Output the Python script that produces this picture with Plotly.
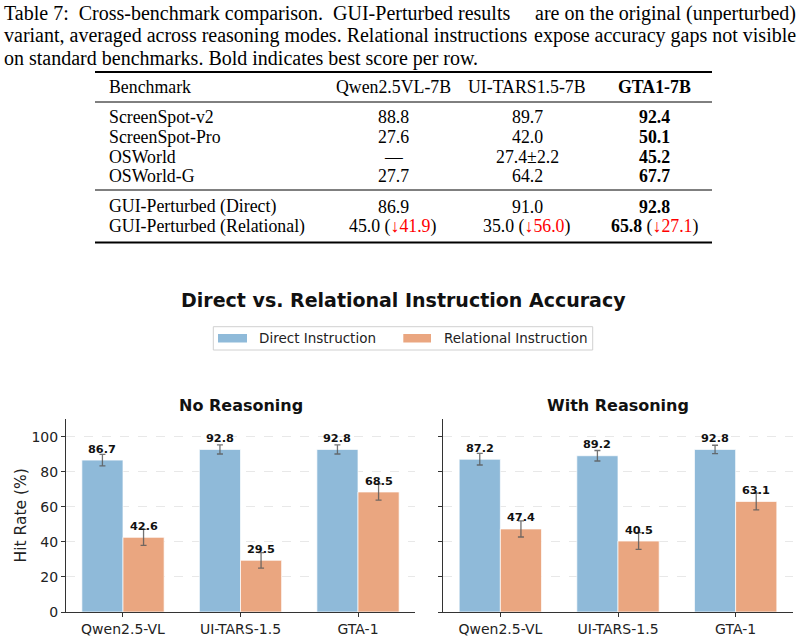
import plotly.graph_objects as go

# ---------------- data ----------------
models = ["Qwen2.5-VL", "UI-TARS-1.5", "GTA-1"]

no_reason_direct = [86.7, 92.8, 92.8]
no_reason_direct_err = [3.3, 2.6, 2.6]
no_reason_rel = [42.6, 29.5, 68.5]
no_reason_rel_err = [4.6, 4.4, 4.6]

reason_direct = [87.2, 89.2, 92.8]
reason_direct_err = [3.3, 3.0, 2.4]
reason_rel = [47.4, 40.5, 63.1]
reason_rel_err = [4.6, 4.8, 4.8]

panel_titles = ["No Reasoning", "With Reasoning"]
series_names = ["Direct Instruction", "Relational Instruction"]
y_ticks = [0, 20, 40, 60, 80, 100]

caption_lines = [
    ("Table 7:  Cross-benchmark comparison.  GUI-Perturbed results", "are on the original (unperturbed)"),
    ("variant, averaged across reasoning modes. Relational instructions", "expose accuracy gaps not visible"),
    ("on standard benchmarks. Bold indicates best score per row.", ""),
]
table_header = ["Benchmark", "Qwen2.5VL-7B", "UI-TARS1.5-7B", "GTA1-7B"]
benchmarks = ["ScreenSpot-v2", "ScreenSpot-Pro", "OSWorld", "OSWorld-G",
              "GUI-Perturbed (Direct)", "GUI-Perturbed (Relational)"]
qwen_scores = ["88.8", "27.6", "\u2014", "27.7", "86.9", "45.0"]
uitars_scores = ["89.7", "42.0", "27.4\u00b12.2", "64.2", "91.0", "35.0"]
gta_scores = ["92.4", "50.1", "45.2", "67.7", "92.8", "65.8"]
relational_drops = ["41.9", "56.0", "27.1"]

# ---------------- style ----------------
W, H = 806, 638
BLUE = "rgb(143,186,217)"
ORANGE = "rgb(234,166,128)"
SANS = "DejaVu Sans"
SERIF = "Liberation Serif"


def X(px):
    return px / W


def Y(py):
    return 1 - py / H


fig = go.Figure()

panels = [
    (no_reason_direct, no_reason_direct_err, no_reason_rel, no_reason_rel_err, "x", "y"),
    (reason_direct, reason_direct_err, reason_rel, reason_rel_err, "x2", "y2"),
]
err_style = dict(type="data", color="rgba(90,90,90,0.85)", thickness=1.3, width=3, visible=True)
for d, de, r, re_, xa, ya in panels:
    fig.add_trace(go.Bar(x=models, y=d, name=series_names[0], marker=dict(color=BLUE, line=dict(color="rgba(255,255,255,0.7)", width=1)),
                         error_y=dict(array=de, **err_style), xaxis=xa, yaxis=ya, showlegend=False))
    fig.add_trace(go.Bar(x=models, y=r, name=series_names[1], marker=dict(color=ORANGE, line=dict(color="rgba(255,255,255,0.7)", width=1)),
                         error_y=dict(array=re_, **err_style), xaxis=xa, yaxis=ya, showlegend=False))

annotations = []
# value labels
for d, de, r, re_, xa, ya in panels:
    for vals, off in ((d, -0.175), (r, 0.175)):
        for i, v in enumerate(vals):
            annotations.append(dict(x=i + off, y=v, xref=xa, yref=ya, text=f"<b>{v:.1f}</b>",
                                    showarrow=False, yanchor="middle", xanchor="center", yshift=11,
                                    font=dict(family=SANS, size=11.3, color="#111")))

ydom = [Y(612), Y(419.3)]
axis_common = dict(showline=True, linecolor="#333", linewidth=1, ticks="outside", ticklen=4,
                   tickcolor="#333", tickwidth=1, tickfont=dict(family=SANS, size=14, color="#222"),
                   automargin=False)
fig.update_layout(
    xaxis=dict(domain=[X(66), X(415)], range=[-0.485, 2.485], anchor="y", showgrid=False, **axis_common),
    xaxis2=dict(domain=[X(443.3), X(792.7)], range=[-0.485, 2.485], anchor="y2", showgrid=False, **axis_common),
    yaxis=dict(domain=ydom, range=[0, 110], tickvals=y_ticks, anchor="x", showgrid=True, gridcolor="#e8e8e8",
               griddash="dash", gridwidth=0.8, zeroline=False, **axis_common),
    yaxis2=dict(domain=ydom, range=[0, 110], tickvals=y_ticks, anchor="x2", showgrid=True, gridcolor="#e8e8e8",
                griddash="dash", gridwidth=0.8, zeroline=False, showticklabels=False, **axis_common),
    barmode="group", bargap=0.3, bargroupgap=0,
)

# panel titles
for t, cx in zip(panel_titles, [(66 + 415) / 2, (443.3 + 792.7) / 2]):
    annotations.append(dict(x=X(cx), y=Y(405), xref="paper", yref="paper", text=f"<b>{t}</b>", showarrow=False,
                            xanchor="center", yanchor="middle", font=dict(family=SANS, size=16, color="#111")))
# y title
annotations.append(dict(x=X(20), y=Y(515.5), xref="paper", yref="paper", text="Hit Rate (%)", textangle=-90,
                        showarrow=False, xanchor="center", yanchor="middle", font=dict(family=SANS, size=15.5, color="#222")))
# suptitle
annotations.append(dict(x=X(403), y=Y(300), xref="paper", yref="paper", text="<b>Direct vs. Relational Instruction Accuracy</b>",
                        showarrow=False, xanchor="center", yanchor="middle", font=dict(family=SANS, size=19, color="#111")))

shapes = []
# legend box
shapes.append(dict(type="rect", xref="paper", yref="paper", x0=X(213.3), x1=X(592.7), y0=Y(350), y1=Y(326.7),
                   line=dict(color="#d0d0d0", width=1), fillcolor="white"))
for (sx0, sx1, tx), col, name in zip([(218, 247, 257.3), (403.3, 431, 442.3)], [BLUE, ORANGE], series_names):
    shapes.append(dict(type="rect", xref="paper", yref="paper", x0=X(sx0), x1=X(sx1), y0=Y(342.5), y1=Y(334),
                       line=dict(width=0), fillcolor=col))
    annotations.append(dict(x=X(tx), y=Y(338), xref="paper", yref="paper", text=name, showarrow=False,
                            xanchor="left", yanchor="middle", font=dict(family=SANS, size=13.5, color="#222")))

# caption
cap_y = [13, 35.5, 58]
for (left, right), cy in zip(caption_lines, cap_y):
    annotations.append(dict(x=X(2), y=Y(cy), xref="paper", yref="paper", text=left, showarrow=False,
                            xanchor="left", yanchor="middle", font=dict(family=SERIF, size=20, color="#000")))
    if right:
        annotations.append(dict(x=X(798), y=Y(cy), xref="paper", yref="paper", text=right, showarrow=False,
                                xanchor="right", yanchor="middle", font=dict(family=SERIF, size=20, color="#000")))

# table
TF = dict(family=SERIF, size=17.8, color="#000")
col_x = [107, 393, 527, 654.5]
header_y = 87
row_y = [116.5, 136.5, 156.5, 176.5, 206.5, 226.5]
for j, (h, cx) in enumerate(zip(table_header, col_x)):
    annotations.append(dict(x=X(cx), y=Y(header_y), xref="paper", yref="paper",
                            text=f"<b>{h}</b>" if j == 3 else h, showarrow=False,
                            xanchor="left" if j == 0 else "center", yanchor="middle", font=TF))
for i, ry in enumerate(row_y):
    cells = [benchmarks[i], qwen_scores[i], uitars_scores[i], f"<b>{gta_scores[i]}</b>"]
    if i == 5:
        drops = relational_drops
        cells[1] = f"{qwen_scores[i]} (<span style='color:red'>\u2193{drops[0]}</span>)"
        cells[2] = f"{uitars_scores[i]} (<span style='color:red'>\u2193{drops[1]}</span>)"
        cells[3] = f"<b>{gta_scores[i]}</b> (<span style='color:red'>\u2193{drops[2]}</span>)"
    for j, (c, cx) in enumerate(zip(cells, col_x)):
        annotations.append(dict(x=X(cx), y=Y(ry), xref="paper", yref="paper", text=c, showarrow=False,
                                xanchor="left" if j == 0 else "center", yanchor="middle", font=TF))
for ry, lw in [(72, 2), (102, 1), (190, 1), (242.5, 2)]:
    shapes.append(dict(type="line", xref="paper", yref="paper", x0=X(95), x1=X(712), y0=Y(ry), y1=Y(ry),
                       line=dict(color="#000", width=lw)))

fig.update_layout(width=W, height=H, margin=dict(l=0, r=0, t=0, b=0, autoexpand=False), paper_bgcolor="white",
                  plot_bgcolor="white", annotations=annotations, shapes=shapes, showlegend=False)

fig.write_html("out.html")
